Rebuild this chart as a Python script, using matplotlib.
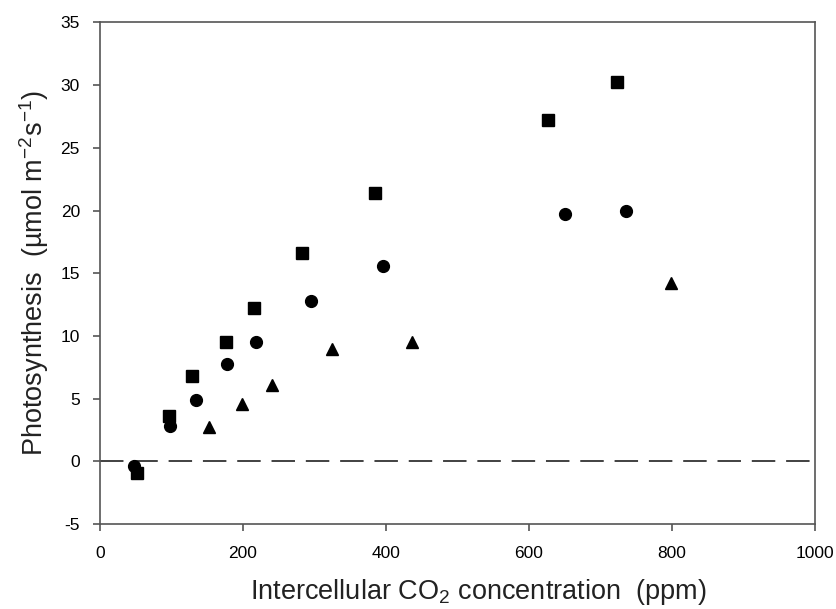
#photosynthesis vs intercellular CO2, three treatments
import matplotlib
matplotlib.use("Agg")
import matplotlib.pyplot as plt

plt.rcParams['font.family'] = ['Liberation Sans', 'DejaVu Sans']
plt.rcParams['mathtext.fontset'] = 'custom'
plt.rcParams['mathtext.rm'] = 'Liberation Sans'
plt.rcParams['mathtext.it'] = 'Liberation Sans'
plt.rcParams['mathtext.default'] = 'regular'
plt.rcParams['axes.unicode_minus'] = False

# squares
sq_ci = [52, 97, 129, 176, 216, 283, 384, 626, 723]
sq_a = [-0.95, 3.65, 6.8, 9.5, 12.25, 16.6, 21.4, 27.2, 30.25]
# circles
ci_ci = [48, 98, 134, 178, 218, 295, 396, 650, 735]
ci_a = [-0.4, 2.85, 4.85, 7.75, 9.5, 12.8, 15.55, 19.75, 20.0]
# triangles
tr_ci = [152, 199, 240, 325, 437, 799]
tr_a = [2.75, 4.6, 6.1, 8.95, 9.55, 14.2]

xticks = [0, 200, 400, 600, 800, 1000]
yticks = [-5, 0, 5, 10, 15, 20, 25, 30, 35]

fig = plt.figure(figsize=(8.37, 6.09), dpi=100)
ax = fig.add_axes([0.1195, 0.1396, 0.8542, 0.8235])

ax.axhline(0, color='#333333', linewidth=1.3, dashes=(13, 6))
ax.plot(sq_ci, sq_a, 's', color='black', markersize=8, linestyle='none')
ax.plot(ci_ci, ci_a, 'o', color='black', markersize=8.5, linestyle='none')
ax.plot(tr_ci, tr_a, '^', color='black', markersize=9, linestyle='none')

ax.set_xlim(0, 1000)
ax.set_ylim(-5, 35)
ax.set_xticks(xticks)
ax.set_yticks(yticks)
for s in ax.spines.values():
    s.set_color('#555555')
    s.set_linewidth(1.2)
ax.tick_params(direction='out', length=5, width=1.2, color='#555555', labelsize=12.5)
ax.tick_params(axis='x', pad=10.5)
ax.tick_params(axis='y', pad=9.5)

ax.set_xlabel(r'Intercellular CO$_2$ concentration  (ppm)', fontsize=19.5, color='#222222', labelpad=12)
ax.xaxis.label.set_x(0.529)
ax.set_ylabel(r'Photosynthesis  (µmol m$^{-2}$s$^{-1}$)', fontsize=19.5, color='#222222', labelpad=6.5)

fig.savefig('out.png', dpi=100)
